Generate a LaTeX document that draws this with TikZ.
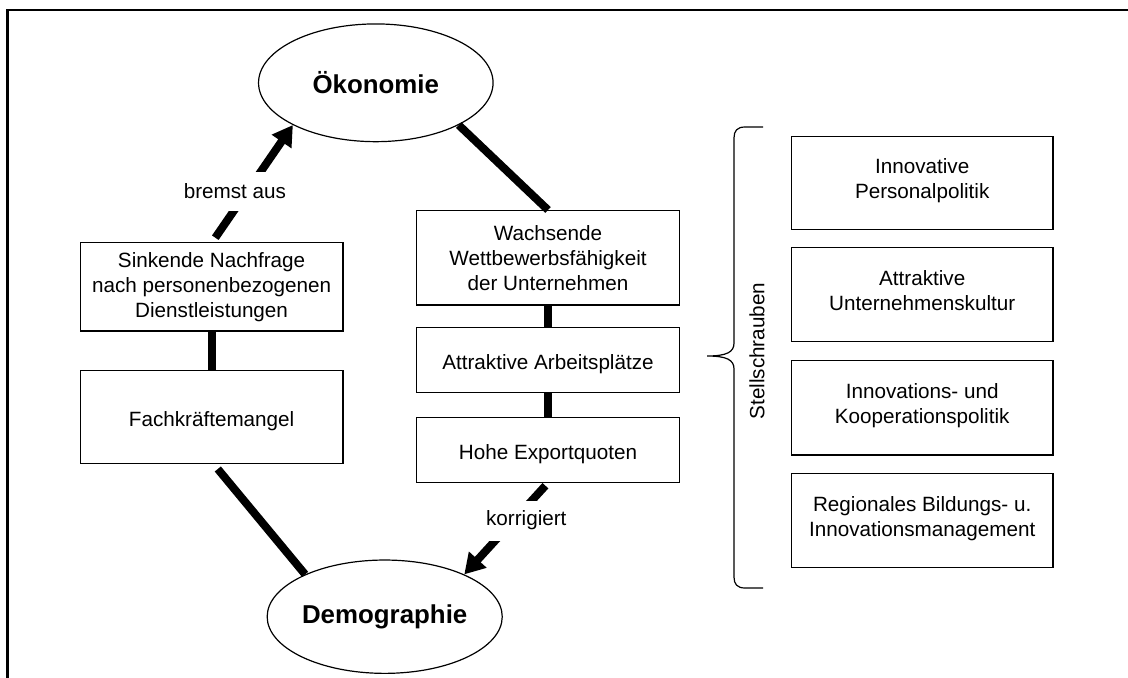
\documentclass[tikz,border=0pt]{standalone}
\usepackage{fontspec}
\setmainfont{Liberation Sans}
\usetikzlibrary{shapes.geometric,arrows.meta,calc}
\newcommand{\upstrut}{\rule[-6pt]{0pt}{0pt}}
\newcommand{\downstrut}{\rule{0pt}{17.5pt}}
\begin{document}
\begin{tikzpicture}[x=0.75pt,y=-0.75pt,
  txt/.style={font=\fontsize{15.5}{18.75}\selectfont},
  box/.style={txt,draw,line width=1pt,align=center,inner sep=0pt},
  lbox/.style={box,minimum width=197pt},
  rbox/.style={box,minimum width=196pt},
  oval/.style={draw,ellipse,line width=0.9pt,inner sep=0pt,font=\fontsize{19.4}{23}\selectfont\bfseries},
  link/.style={line width=6pt},
  arr/.style={line width=6pt,-{Triangle[length=15pt,width=17pt]}},
  lbl/.style={txt,fill=white,inner xsep=2pt,inner ysep=0pt}]
\useasboundingbox (0,0) rectangle (1128,678);
\fill[white] (0,0) rectangle (1128,678);
% frame
\draw[line width=2.1pt,line join=miter] (7.2,700) -- (7.2,10) -- (1150,10);

% ellipses
\node[oval,minimum width=175.9pt,minimum height=88.3pt] (oeko) at (375.8,82.8) {Ökonomie};
\node[oval,minimum width=176.3pt,minimum height=85pt] (demo) at (384.7,616.7) {Demographie};

% left column
\node[lbox,minimum height=66.5pt] (sink) at (211.6,286.7) {Sinkende Nachfrage\\nach personenbezogenen\\Dienstleistungen};
\node[lbox,minimum height=69.5pt] (fach) at (211.6,417) {\downstrut Fachkräftemangel};

% middle column
\node[lbox,minimum height=70.7pt] (wachs) at (548,257.8) {Wachsende\\Wettbewerbsfähigkeit\\der Unternehmen};
\node[lbox,minimum height=48.75pt] (attr) at (548,360.2) {\downstrut Attraktive Arbeitsplätze};
\node[lbox,minimum height=48.5pt] (hohe) at (548,450) {\downstrut Hohe Exportquoten};

% right column
\node[rbox,minimum height=69.5pt] (r1) at (922.2,183) {Innovative\\Personalpolitik\upstrut};
\node[rbox,minimum height=70.5pt] (r2) at (922.2,294.7) {Attraktive\\Unternehmenskultur\upstrut};
\node[rbox,minimum height=70.7pt] (r3) at (922.2,407.8) {Innovations- und\\Kooperationspolitik\upstrut};
\node[rbox,minimum height=70.5pt] (r4) at (922.2,520.3) {Regionales Bildungs- u.\\Innovationsmanagement\upstrut};

% connectors
\draw[arr] ($(sink.north)+(3.7,-4)$) -- (oeko.207);
\draw[link] (oeko.333.7) -- (wachs.north);
\draw[link] (wachs.south) -- (attr.north);
\draw[link] (attr.south) -- (hohe.north);
\draw[link] (sink.south) -- (fach.north);
\draw[link] ($(fach.south)+(6.2,5)$) -- (demo.152.2);
\draw[arr] ($(hohe.south)+(-2.6,2.7)$) -- (demo.28.4);

% connector labels
\node[lbl,minimum height=29.25pt] (bremst) at (234.9,191.2) {bremst aus};
\node[lbl,minimum height=30pt] (korr) at (526.3,520.5) {korrigiert};

% brace
\draw[line width=0.9pt] (763,127) -- (745,127)
  .. controls (737,127) and (734,131) .. (734,138) -- (734,343)
  .. controls (734,352) and (727,356) .. (707,356)
  .. controls (727,356) and (734,360) .. (734,369) -- (734,577)
  .. controls (734,584) and (737,588) .. (745,588) -- (763,588);
\node[txt,rotate=90] (stell) at (757,351) {Stellschrauben};
\end{tikzpicture}
\end{document}
